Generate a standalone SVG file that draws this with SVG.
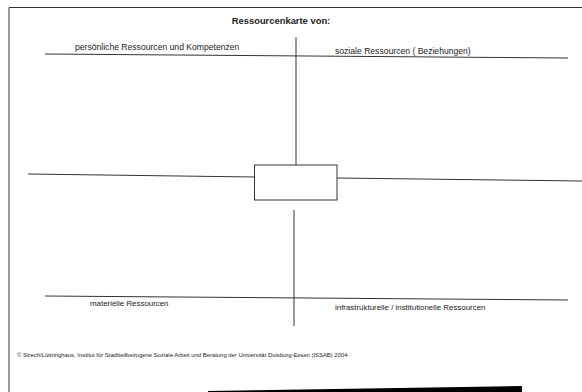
<svg xmlns="http://www.w3.org/2000/svg" width="582" height="392" viewBox="0 0 582 392">
<style>
.ln{stroke:#333;stroke-width:1;fill:none}
.t{font-family:"Liberation Sans",Arial,sans-serif;fill:#222}
</style>
<rect width="582" height="392" fill="#fff"/>
<g id="frame">
<path class="ln" d="M9,392 V7.5 H582" stroke-width="1.5"/>
</g>
<g id="title"><text class="t" x="281" y="24" font-size="9.4" font-weight="bold" text-anchor="middle">Ressourcenkarte von:</text></g>
<g id="connectors">
<path class="ln" d="M45,54 L568,58"/>
<path class="ln" d="M45,296 L568,300"/>
<path class="ln" d="M28,174 L254,177"/>
<path class="ln" d="M337,178 L582,181"/>
<path class="ln" d="M296,37 V165"/>
<path class="ln" d="M294,210 V326"/>
</g>
<g id="center"><rect class="ln" x="254.5" y="165" width="82.5" height="35"/></g>
<g id="q1"><text class="t" x="75" y="50" font-size="8.6">persönliche Ressourcen und Kompetenzen</text></g>
<g id="q2"><text class="t" x="335" y="54" font-size="8.6">soziale Ressourcen ( Beziehungen)</text></g>
<g id="q3"><text class="t" x="90" y="306" font-size="7.9">materielle Ressourcen</text></g>
<g id="q4"><text class="t" x="335" y="310" font-size="7.9">infrastrukturelle / institutionelle Ressourcen</text></g>
<g id="footer"><text class="t" x="17" y="357" font-size="5.9">© Strech/Lüttringhaus, Institut für Stadtteilbezogene Soziale Arbeit und Beratung der Universität Duisburg-Essen (ISSAB) 2004</text></g>
<polygon points="208,391 522,386 522,392 208,392" fill="#000"/>
</svg>
